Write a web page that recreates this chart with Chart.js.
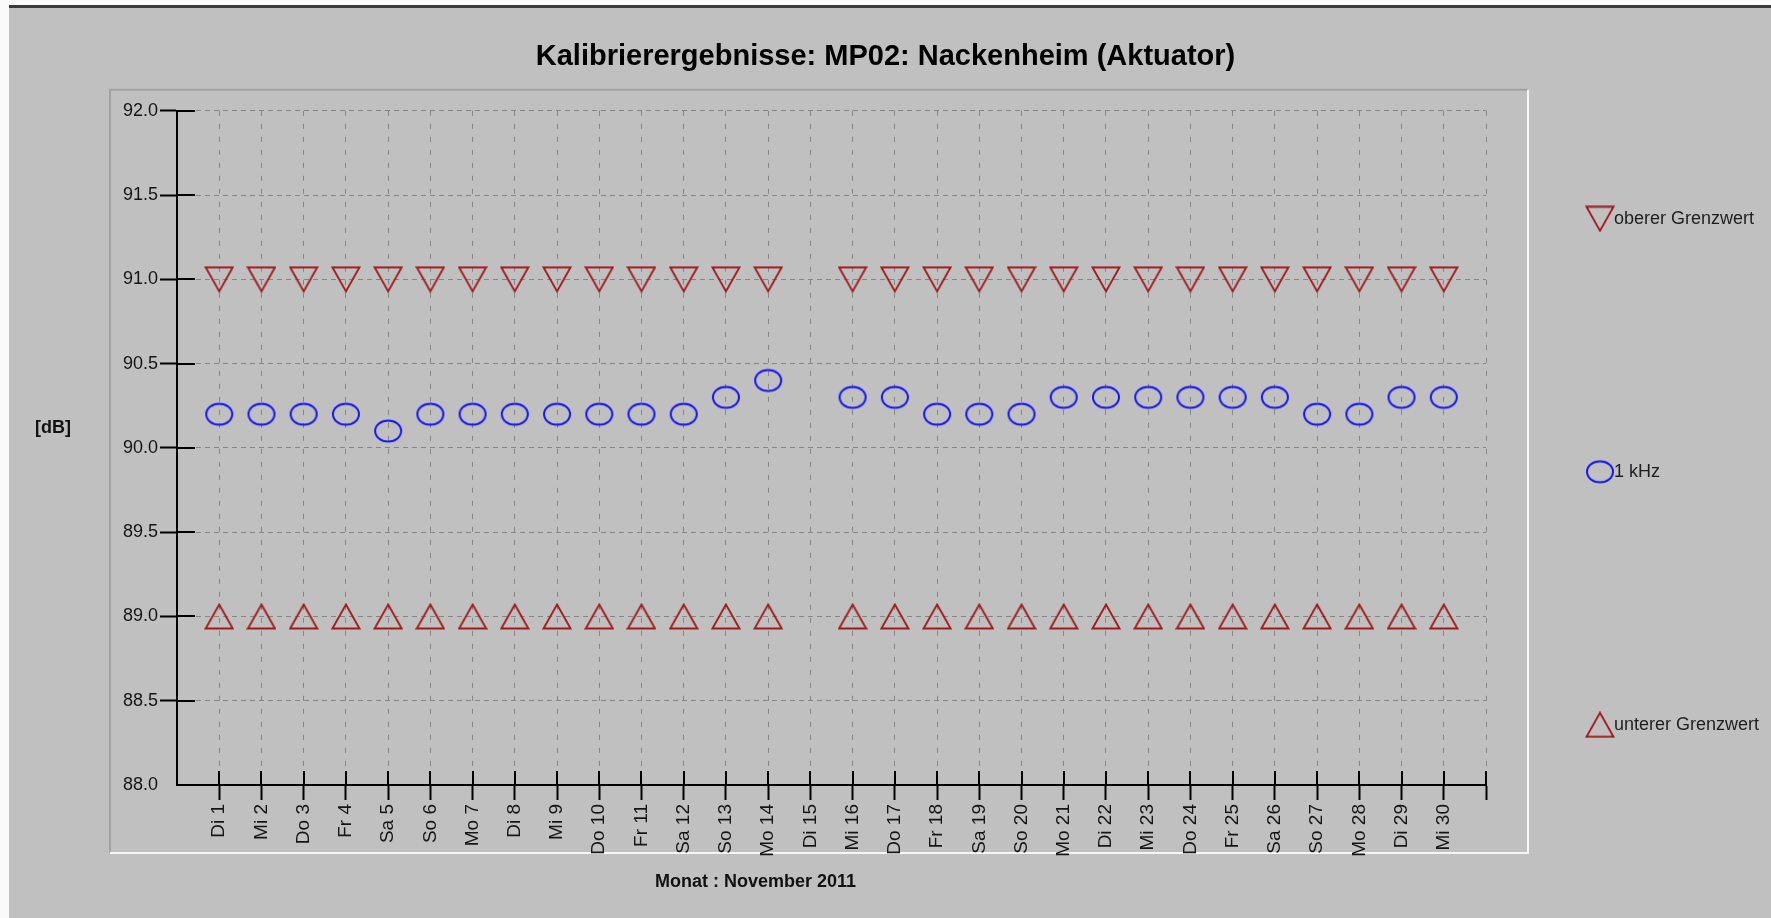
<!DOCTYPE html>
<html>
<head>
<meta charset="utf-8">
<title>Kalibrierergebnisse</title>
<script src="https://cdn.jsdelivr.net/npm/chart.js@4.4.1/dist/chart.umd.min.js"></script>
<style>
    html, body { margin: 0; padding: 0; background: #fff; }
    canvas { display: block; }
</style>
</head>
<body>
<canvas id="calChart" width="1771" height="918"></canvas>
<script>
Chart.defaults.font.family = "'Liberation Sans', Arial, sans-serif"
Chart.defaults.color = '#1a1a1a'

const chartTitle = 'Kalibrierergebnisse: MP02: Nackenheim (Aktuator)'
const yTitle = '[dB]'
const xTitle = 'Monat : November 2011'

const days = ['Di 1', 'Mi 2', 'Do 3', 'Fr 4', 'Sa 5', 'So 6', 'Mo 7', 'Di 8', 'Mi 9', 'Do 10',
    'Fr 11', 'Sa 12', 'So 13', 'Mo 14', 'Di 15', 'Mi 16', 'Do 17', 'Fr 18', 'Sa 19', 'So 20',
    'Mo 21', 'Di 22', 'Mi 23', 'Do 24', 'Fr 25', 'Sa 26', 'So 27', 'Mo 28', 'Di 29', 'Mi 30']

const upperLimit = [91.0, 91.0, 91.0, 91.0, 91.0, 91.0, 91.0, 91.0, 91.0, 91.0,
    91.0, 91.0, 91.0, 91.0, null, 91.0, 91.0, 91.0, 91.0, 91.0,
    91.0, 91.0, 91.0, 91.0, 91.0, 91.0, 91.0, 91.0, 91.0, 91.0]

const measured1k = [90.2, 90.2, 90.2, 90.2, 90.1, 90.2, 90.2, 90.2, 90.2, 90.2,
    90.2, 90.2, 90.3, 90.4, null, 90.3, 90.3, 90.2, 90.2, 90.2,
    90.3, 90.3, 90.3, 90.3, 90.3, 90.3, 90.2, 90.2, 90.3, 90.3]

const lowerLimit = [89.0, 89.0, 89.0, 89.0, 89.0, 89.0, 89.0, 89.0, 89.0, 89.0,
    89.0, 89.0, 89.0, 89.0, null, 89.0, 89.0, 89.0, 89.0, 89.0,
    89.0, 89.0, 89.0, 89.0, 89.0, 89.0, 89.0, 89.0, 89.0, 89.0]

const yMin = 88
const yMax = 92
const yStep = 0.5


const toPoints = values => values.map((v, i) => ({ x: i + 1, y: v }))

// marker images, used for the points and for the legend
const makeMarker = (w, h, color, lineWidth, path) => {
    const c = document.createElement('canvas')
    c.width = w
    c.height = h
    const ctx = c.getContext('2d')
    ctx.strokeStyle = color
    ctx.lineWidth = lineWidth
    ctx.beginPath()
    path(ctx)
    ctx.stroke()
    return c
}

const limitRed = '#a01a1a'
const downTriangle = makeMarker(30, 27, limitRed, 1.8, ctx => {
    ctx.moveTo(1.5, 1.5); ctx.lineTo(28.5, 1.5); ctx.lineTo(15, 25.5); ctx.closePath()
})
const upTriangle = makeMarker(30, 27, limitRed, 1.8, ctx => {
    ctx.moveTo(15, 1.5); ctx.lineTo(28.5, 25.5); ctx.lineTo(1.5, 25.5); ctx.closePath()
})
const ellipse = makeMarker(30, 26, '#1414f5', 2, ctx => {
    ctx.ellipse(15, 13, 13, 10.5, 0, 0, Math.PI * 2)
})


const framePlugin = {
    id: 'frame',
    beforeDraw: chart => {
        const { ctx, chartArea: a, width, height } = chart
        ctx.save()
        ctx.fillStyle = '#fafafa'
        ctx.fillRect(0, 0, width, height)
        ctx.fillStyle = '#c0c0c0'
        ctx.fillRect(9, 5, width - 9, height - 5)
        ctx.fillStyle = '#3a3a3a'
        ctx.fillRect(9, 5, width - 9, 3)

        // bevelled panel round the plot
        const l = a.left - 67, t = a.top - 21, r = a.right + 42, b = a.bottom + 68
        ctx.lineWidth = 2
        ctx.strokeStyle = '#a2a2a2'
        ctx.beginPath(); ctx.moveTo(l, b); ctx.lineTo(l, t); ctx.lineTo(r, t); ctx.stroke()
        ctx.strokeStyle = '#f6f6f6'
        ctx.beginPath(); ctx.moveTo(r, t); ctx.lineTo(r, b); ctx.lineTo(l, b); ctx.stroke()
        ctx.restore()
    },
    afterDraw: chart => {
        const { ctx, chartArea: a, scales: { x, y } } = chart
        ctx.save()

        // tick marks continue into the plot
        ctx.strokeStyle = '#000'
        ctx.lineWidth = 2
        y.ticks.forEach(t => {
            if (t.value === y.min) return
            const py = Math.round(y.getPixelForValue(t.value))
            ctx.beginPath(); ctx.moveTo(a.left, py); ctx.lineTo(a.left + 18, py); ctx.stroke()
        })
        x.ticks.forEach(t => {
            if (t.value === x.min) return
            const px = Math.round(x.getPixelForValue(t.value))
            ctx.beginPath(); ctx.moveTo(px, a.bottom); ctx.lineTo(px, a.bottom - 14); ctx.stroke()
        })

        // axis titles
        ctx.fillStyle = '#111'
        ctx.font = "bold 18px 'Liberation Sans', Arial, sans-serif"
        ctx.textAlign = 'center'
        ctx.textBaseline = 'middle'
        ctx.fillText(yTitle, a.left - 124, a.top + (a.bottom - a.top) * 0.47)
        ctx.fillText(xTitle, a.left + (a.right - a.left) * 0.442, a.bottom + 97)

        // legend on the right
        ctx.font = "18px 'Liberation Sans', Arial, sans-serif"
        ctx.textAlign = 'left'
        ctx.fillStyle = '#1e1e1e'
        chart.data.datasets.forEach((ds, i) => {
            const img = ds.pointStyle
            const cy = a.top + 108 + i * 253
            ctx.drawImage(img, a.right + 99, cy - img.height / 2)
            ctx.fillText(ds.label, a.right + 99 + img.width - 1, cy)
        })
        ctx.restore()
    }
}


const gridGray = '#858585'

new Chart('calChart', {
    type: 'scatter',
    data: {
        datasets: [
            { label: 'oberer Grenzwert', data: toPoints(upperLimit), pointStyle: downTriangle, pointRadius: 13 },
            { label: '1 kHz', data: toPoints(measured1k), pointStyle: ellipse, pointRadius: 13 },
            { label: 'unterer Grenzwert', data: toPoints(lowerLimit), pointStyle: upTriangle, pointRadius: 13 }
        ]
    },
    options: {
        responsive: false,
        animation: false,
        events: [],
        layout: { padding: 0 },
        plugins: {
            legend: { display: false },
            tooltip: { enabled: false },
            title: {
                display: true,
                text: chartTitle,
                color: '#000',
                font: { size: 29, weight: 'bold' },
                padding: { top: 40, bottom: 36 }
            }
        },
        scales: {
            x: {
                type: 'linear',
                min: 0,
                max: days.length + 1,
                afterFit: scale => { scale.height = 133 },
                border: { color: '#000', width: 2, dash: [5, 8] },
                grid: {
                    color: c => c.tick.value === 0 ? 'rgba(0,0,0,0)' : gridGray,
                    tickColor: c => c.tick.value === 0 ? 'rgba(0,0,0,0)' : '#000',
                    tickLength: 15,
                    tickWidth: 2,
                    tickBorderDash: []
                },
                ticks: {
                    stepSize: 1,
                    maxTicksLimit: 100,
                    autoSkip: false,
                    minRotation: 90,
                    maxRotation: 90,
                    padding: 4,
                    color: '#151515',
                    font: { size: 19 },
                    callback: v => days[v - 1] || ''
                }
            },
            y: {
                min: yMin,
                max: yMax,
                afterFit: scale => { scale.width = 177 },
                border: { color: '#000', width: 2, dash: [5, 4] },
                grid: {
                    color: c => c.tick.value === yMin ? 'rgba(0,0,0,0)' : gridGray,
                    tickColor: c => c.tick.value === yMin ? 'rgba(0,0,0,0)' : '#000',
                    tickLength: 17,
                    tickWidth: 2,
                    tickBorderDash: []
                },
                ticks: {
                    stepSize: yStep,
                    padding: 2,
                    color: '#151515',
                    font: { size: 18 },
                    callback: v => v.toFixed(1)
                }
            },
            // empty right-hand axis: keeps room for the legend column
            legendSpace: {
                type: 'linear',
                position: 'right',
                afterFit: scale => { scale.width = 285 },
                border: { display: false },
                grid: { display: false },
                ticks: { display: false }
            }
        }
    },
    plugins: [framePlugin]
})
</script>
</body>
</html>
